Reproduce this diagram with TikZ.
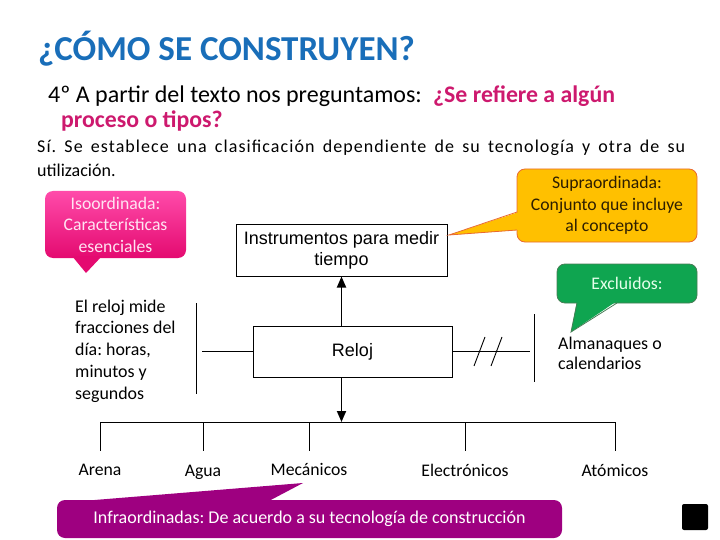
\documentclass[tikz,border=0pt]{standalone}
\usepackage{fontspec}
\setmainfont{Carlito}
\newfontfamily\arialfont{Liberation Sans}
\usepackage{tikz}
\usetikzlibrary{arrows.meta, positioning, calc}
\frenchspacing
\definecolor{myblue}{RGB}{25,110,185}
\definecolor{mypink}{RGB}{205,25,110}
\definecolor{isotop}{RGB}{255,75,170}
\definecolor{isobot}{RGB}{228,10,112}
\definecolor{isotext}{RGB}{255,228,242}
\definecolor{supfill}{RGB}{255,192,0}
\definecolor{supdraw}{RGB}{232,105,50}
\definecolor{suptext}{RGB}{45,30,0}
\definecolor{exfill}{RGB}{15,165,80}
\definecolor{exdraw}{RGB}{70,125,85}
\definecolor{extext}{RGB}{230,255,235}
\definecolor{infill}{RGB}{158,0,128}
\tikzset{
  box/.style={rectangle, draw=black, line width=1pt, inner sep=0pt,
    align=center, font=\arialfont\fontsize{18}{21}\selectfont},
  tag/.style={rectangle, rounded corners=8pt, inner sep=0pt,
    align=center, font=\fontsize{17.7}{21.5}\selectfont},
  leaf/.style={anchor=base, inner sep=2pt, font=\fontsize{17.7}{20}\selectfont},
  arrow/.style={-{Triangle[length=11pt,width=9pt]}, line width=1.8pt, color=black},
  line/.style={line width=0.9pt, color=black}
}

\begin{document}
\begin{tikzpicture}[x=1pt, y=-1pt,
  headtxt/.style={anchor=base west, inner sep=0pt},
  sidetxt/.style={anchor=west, inner sep=0pt, align=left,
    font=\fontsize{17.9}{21.7}\selectfont}]
  \useasboundingbox (0,0) rectangle (720,540);

  % Heading
  \node[headtxt, font=\bfseries\fontsize{35}{40}\selectfont, text=myblue] (title) at (38,61) {¿CÓMO SE CONSTRUYEN?};
  \node[headtxt, font=\fontsize{24}{28}\selectfont] (ask) at (48,103) {4º A partir del texto nos preguntamos:};
  \node[headtxt, font=\bfseries\fontsize{23.8}{28}\selectfont, text=mypink] (askpink) at (433,103) {¿Se refiere a algún};
  \node[headtxt, font=\bfseries\fontsize{23.8}{28}\selectfont, text=mypink] (askpinkb) at (61,128) {proceso o tipos?};
  \node[headtxt, font=\fontsize{18}{24}\selectfont\addfontfeature{LetterSpace=6}] (answer) at (37,153)
    {\makebox[648pt][s]{Sí. Se establece una clasificación dependiente de su tecnología y otra de su}};
  \node[headtxt, font=\fontsize{18}{24}\selectfont] (answerb) at (37,177) {utilización.};

  % Boxes
  \node[box, minimum width=211pt, minimum height=51pt] (instr) at (341.5,250.5) {Instrumentos para medir\\tiempo};
  \node[box, minimum width=199pt, minimum height=51pt] (reloj) at (352.5,351.5) {Reloj};
  \coordinate (bus) at (343,422);

  \draw[arrow] (instr.south |- reloj.north) -- (instr.south);
  \draw[arrow] (instr.south |- reloj.south) -- (instr.south |- bus);

  % Left side
  \node[sidetxt] (mide) at (75,351) {El reloj mide\\fracciones del\\día: horas,\\minutos y\\segundos};
  \draw[line] (reloj.west) -- ++(-51,0);
  \draw[line] (196,303) -- (196,394);

  % Right side
  \node[sidetxt, font=\fontsize{17.9}{20}\selectfont] (almanaq) at (558,353) {Almanaques o\\calendarios};
  \draw[line] (reloj.east) -- ++(77,0);
  \draw[line] (474,366) -- (485,337);
  \draw[line] (491,366) -- (502,337);
  \draw[line] (534,314) -- (534,382);

  % Types
  \node[leaf] (arena) at (100,475) {Arena};
  \node[leaf] (agua) at (203,476) {Agua};
  \node[leaf] (mecanicos) at (309,475) {Mecánicos};
  \node[leaf] (electronicos) at (465,476) {Electrónicos};
  \node[leaf] (atomicos) at (615,476) {Atómicos};
  \draw[line] (arena |- bus) -- (atomicos |- bus);
  \foreach \n in {arena,agua,mecanicos,electronicos,atomicos}
    \draw[line] (\n |- bus) -- ++(0,29);

  % Callouts
  \node[tag, minimum width=141pt, minimum height=67pt, top color=isotop, bottom color=isobot,
    text=isotext] (iso) at (115.5,224.5) {Isoordinada:\\Características\\esenciales};
  \fill[isobot] (72,256) -- (86,273) -- (102,256) -- cycle;

  \node[tag, minimum width=180pt, minimum height=73pt, fill=supfill, draw=supdraw, line width=0.8pt,
    text=suptext] (supra) at (607,205.5) {Supraordinada:\\Conjunto que incluye\\al concepto};
  \fill[supfill] (519,212) -- (449,235) -- (519,230) -- cycle;
  \draw[supdraw, line width=0.8pt] (517,212) -- (449,235) -- (517,230);

  \node[tag, minimum width=140pt, minimum height=39pt, fill=exfill, draw=exdraw, line width=0.8pt,
    text=extext] (excl) at (627,283.5) {Excluidos:};
  \fill[exfill] (577,301) -- (571,332) -- (617,301) -- cycle;
  \draw[exdraw, line width=0.8pt] (577,303) -- (571,332) -- (617,303);

  \node[tag, minimum width=505pt, minimum height=38pt, fill=infill, text=white,
    font=\fontsize{18}{21}\selectfont] (infra) at (309.5,519)
    {Infraordinadas: De acuerdo a su tecnología de construcción};
  \fill[infill] (70,502) -- (303,483) -- (267,502) -- cycle;

  % Logo
  \node[fill=black, rounded corners=2pt, minimum size=26pt, inner sep=0pt] (logo) at (695,517) {};
\end{tikzpicture}
\end{document}
